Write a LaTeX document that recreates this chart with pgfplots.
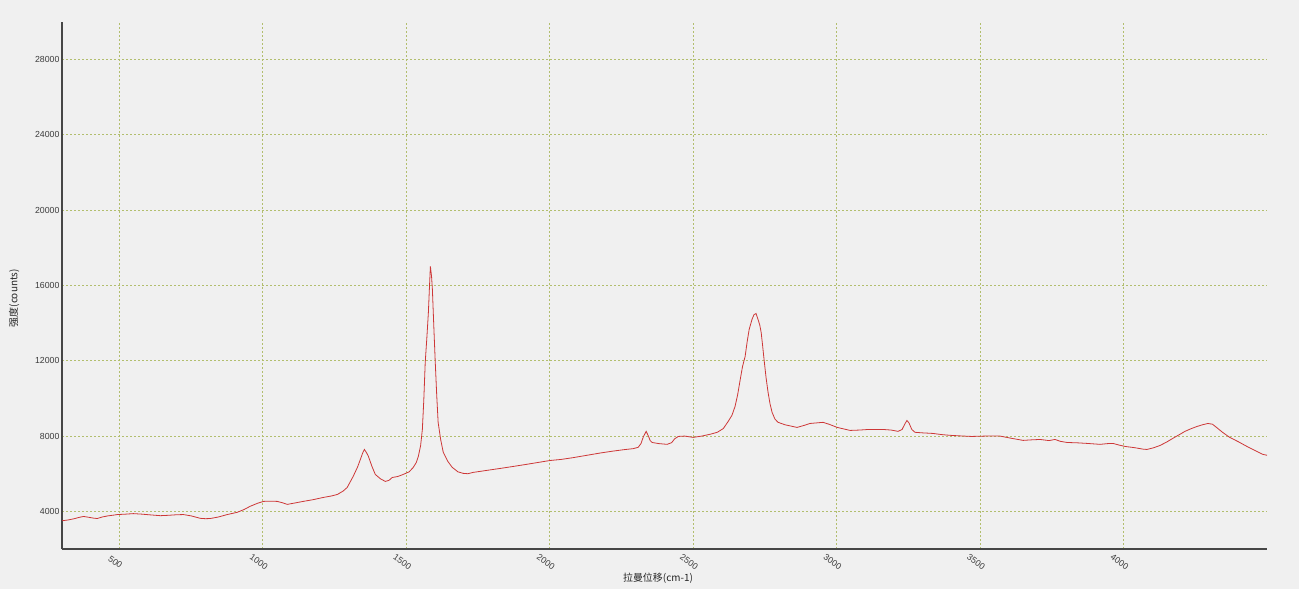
\documentclass[border=0pt]{standalone}
\usepackage{fontspec}
\setmainfont{Liberation Sans}
\newfontfamily\cjk{Noto Sans CJK SC}
\usepackage{pgfplots}
\pgfplotsset{compat=1.18}
\definecolor{bg}{RGB}{240,240,240}
\definecolor{gridc}{RGB}{178,190,110}
\definecolor{spine}{RGB}{70,70,70}
\definecolor{curve}{RGB}{205,55,55}
\definecolor{tickc}{RGB}{60,60,60}
\begin{document}
\begin{tikzpicture}
\fill[bg] (-62bp,-40bp) rectangle (1237bp,549bp);
\begin{axis}[
 at={(0,0)}, anchor=south west,
 scale only axis, width=1205bp, height=527bp,
 xmin=300, xmax=4500, ymin=2000, ymax=30000,
 axis x line*=bottom, axis y line*=left,
 axis line style={spine, line width=1.2bp},
 xtick={500,1000,...,4000}, ytick={4000,8000,...,28000},
 major tick length=0,
 grid=major,
 major grid style={gridc, line width=0.9bp, dash pattern=on 2bp off 2bp},
 scaled ticks=false,
 /pgf/number format/1000 sep={},
 /pgf/number format/assume math mode=true,
 ticklabel style={font=\fontsize{8.8}{10}\selectfont, text=tickc},
 yticklabel style={xshift=1bp},
 xticklabel style={xshift=-4bp, yshift=-13bp, rotate=-35, anchor=center},
 xlabel={\fontsize{10}{12}\selectfont\cjk 拉曼位移(cm-1)},
 xlabel style={at={(rel axis cs:0.4946,0)}, anchor=center, yshift=-29bp, text=black!85},
 ylabel={\fontsize{10}{12}\selectfont\cjk 强度(counts)},
 ylabel style={at={(rel axis cs:-0.0398,0.476)}, anchor=center, text=black!85},
]
\addplot[curve, line width=0.8bp, no markers] coordinates {
(300,3500) (320,3540) (340,3600) (360,3680) (375,3730) (395,3680) (410,3640) (423,3620)
(440,3700) (460,3760) (480,3800) (493,3830) (520,3850) (549,3880) (580,3850) (610,3810)
(643,3770) (670,3790) (700,3820) (723,3830) (750,3760) (782,3630) (800,3610) (817,3620)
(845,3700) (876,3830) (911,3950) (935,4100) (956,4270) (980,4420) (1002,4530) (1025,4540)
(1050,4530) (1070,4450) (1085,4370) (1110,4440) (1141,4530) (1175,4620) (1211,4740)
(1240,4820) (1260,4900) (1280,5080) (1294,5270) (1315,5860) (1330,6350) (1340,6760)
(1348,7100) (1354,7290) (1362,7100) (1368,6920) (1380,6400) (1392,5960) (1410,5730)
(1427,5590) (1440,5650) (1451,5800) (1470,5850) (1489,5960) (1510,6100) (1524,6330)
(1535,6600) (1542,6920) (1550,7500) (1556,8350) (1561,9900) (1566,11910) (1572,13300)
(1577,14560) (1581,16000) (1584,17010) (1588,16500) (1591,15790) (1596,13800) (1601,11910)
(1606,10200) (1611,8730) (1620,7800) (1629,7130) (1645,6650) (1660,6340) (1680,6100)
(1698,6020) (1715,6000) (1733,6070) (1760,6130) (1782,6180) (1827,6280) (1870,6380)
(1920,6500) (1960,6600) (2000,6700) (2040,6760) (2080,6850) (2130,6980) (2176,7100)
(2220,7200) (2260,7280) (2290,7330) (2308,7400) (2318,7600) (2326,7950) (2336,8250)
(2344,8000) (2350,7760) (2357,7660) (2380,7600) (2409,7560) (2425,7650) (2435,7850)
(2448,7980) (2470,8000) (2500,7930) (2530,8000) (2560,8100) (2584,8200) (2605,8400)
(2622,8780) (2635,9100) (2646,9580) (2655,10200) (2664,11010) (2672,11700) (2681,12230)
(2688,13000) (2695,13660) (2705,14200) (2712,14450) (2719,14510) (2726,14200) (2732,13900)
(2737,13500) (2742,12800) (2747,12070) (2754,11100) (2761,10320) (2768,9700) (2775,9260)
(2785,8900) (2796,8730) (2820,8600) (2862,8460) (2885,8560) (2907,8670) (2930,8700)
(2953,8730) (2975,8620) (3002,8460) (3047,8300) (3080,8320) (3110,8350) (3162,8350)
(3190,8320) (3214,8250) (3228,8350) (3238,8650) (3245,8830) (3252,8700) (3262,8350)
(3273,8200) (3300,8170) (3336,8140) (3365,8080) (3395,8040) (3430,8010) (3470,7980)
(3520,8000) (3569,8000) (3610,7880) (3650,7770) (3680,7800) (3709,7820) (3740,7760)
(3761,7820) (3780,7720) (3803,7660) (3840,7640) (3873,7610) (3918,7560) (3945,7600)
(3963,7610) (3985,7520) (4005,7450) (4040,7380) (4070,7300) (4082,7290) (4105,7380)
(4127,7500) (4150,7680) (4172,7880) (4195,8080) (4214,8250) (4235,8390) (4256,8510)
(4275,8600) (4294,8670) (4310,8630) (4324,8460) (4345,8200) (4370,7930) (4400,7700)
(4430,7450) (4460,7220) (4485,7030) (4500,6980)
};
\end{axis}
\pgfresetboundingbox
\useasboundingbox (-62bp,-40bp) rectangle (1237bp,549bp);
\end{tikzpicture}
\end{document}
